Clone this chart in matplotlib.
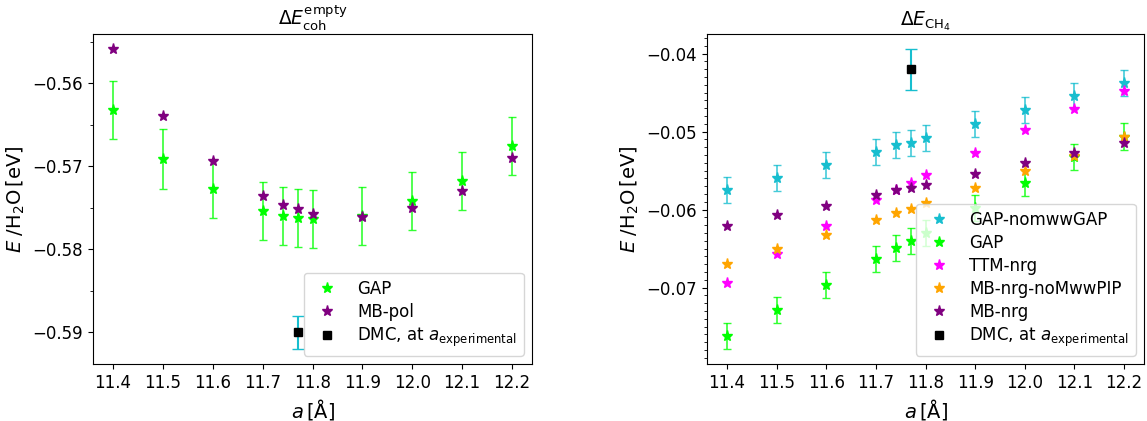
import numpy as np
import matplotlib
matplotlib.use('Agg')
import matplotlib.pyplot as plt
from matplotlib.ticker import MultipleLocator

# lattice constants
a = [11.4, 11.5, 11.6, 11.7, 11.74, 11.77, 11.8, 11.9, 12.0, 12.1, 12.2]
a_exp = 11.77

# cohesive energy of the empty lattice
coh_gap = [-0.5632, -0.5691, -0.5727, -0.5754, -0.5760, -0.5762, -0.5764, -0.5760, -0.5742, -0.5718, -0.5676]
coh_gap_err = [0.0035, 0.0036, 0.0035, 0.0035, 0.0035, 0.0035, 0.0035, 0.0035, 0.0035, 0.0035, 0.0035]
coh_mbpol = [-0.5559, -0.5640, -0.5694, -0.5736, -0.5747, -0.5751, -0.5757, -0.5761, -0.5750, -0.5730, -0.5690]
coh_dmc = -0.5900
coh_dmc_err = 0.0020

# methane binding energy
ch4_nomww = [-0.05752, -0.05590, -0.05427, -0.05256, -0.05175, -0.05141, -0.05081, -0.04906, -0.04726, -0.04547, -0.04380]
ch4_nomww_err = [0.00165] * 11
ch4_gap = [-0.07620, -0.07286, -0.06966, -0.06628, -0.06487, -0.06402, -0.06300, -0.05975, -0.05662, -0.05329, -0.05062]
ch4_gap_err = [0.00167] * 11
ch4_ttm = [-0.06944, -0.06573, -0.06209, -0.05880, -0.05750, -0.05654, -0.05560, -0.05269, -0.04979, -0.04714, -0.04479]
ch4_mbnrg_nopip = [-0.06701, -0.06509, -0.06329, -0.06128, -0.06038, -0.05987, -0.05919, -0.05718, -0.05509, -0.05312, -0.05068]
ch4_mbnrg = [-0.06209, -0.06073, -0.05949, -0.05812, -0.05748, -0.05722, -0.05679, -0.05543, -0.05406, -0.05278, -0.05141]
ch4_dmc = -0.0420
ch4_dmc_err = 0.0026

teal = '#17becf'
fs = 12
ms = 8

fig = plt.figure(figsize=(11.47, 4.21), dpi=100)
ax1 = fig.add_axes([0.0811, 0.1354, 0.3827, 0.7838])
ax2 = fig.add_axes([0.6164, 0.1354, 0.3810, 0.7838])

# left panel
ax1.errorbar(a, coh_gap, yerr=coh_gap_err, fmt='none', ecolor='lime', capsize=3, elinewidth=1.2, alpha=0.8)
ax1.plot(a, coh_gap, '*', color='lime', ms=ms, label='GAP')
ax1.plot(a, coh_mbpol, '*', color='purple', ms=ms, label='MB-pol')
ax1.errorbar(a_exp, coh_dmc, yerr=coh_dmc_err, fmt='none', ecolor=teal, capsize=4, elinewidth=1.5)
ax1.plot(a_exp, coh_dmc, 's', color='black', label=r'DMC, at $a_{\mathrm{experimental}}$')
ax1.set_title(r'$\Delta E_{\mathrm{coh}}^{\mathrm{empty}}$', fontsize=13.5)
ax1.yaxis.set_major_locator(MultipleLocator(0.01))
ax1.yaxis.set_minor_locator(MultipleLocator(0.005))
ax1.legend(loc='lower right', fontsize=fs, labelspacing=0.3)

# right panel
ax2.errorbar(a, ch4_nomww, yerr=ch4_nomww_err, fmt='none', ecolor=teal, capsize=3, elinewidth=1.2, alpha=0.8)
ax2.plot(a, ch4_nomww, '*', color=teal, ms=ms, label='GAP-nomwwGAP')
ax2.errorbar(a, ch4_gap, yerr=ch4_gap_err, fmt='none', ecolor='lime', capsize=3, elinewidth=1.2, alpha=0.8)
ax2.plot(a, ch4_gap, '*', color='lime', ms=ms, label='GAP')
ax2.plot(a, ch4_ttm, '*', color='magenta', ms=ms, label='TTM-nrg')
ax2.plot(a, ch4_mbnrg_nopip, '*', color='orange', ms=ms, label='MB-nrg-noMwwPIP')
ax2.plot(a, ch4_mbnrg, '*', color='purple', ms=ms, label='MB-nrg')
ax2.errorbar(a_exp, ch4_dmc, yerr=ch4_dmc_err, fmt='none', ecolor=teal, capsize=4, elinewidth=1.5)
ax2.plot(a_exp, ch4_dmc, 's', color='black', label=r'DMC, at $a_{\mathrm{experimental}}$')
ax2.set_title(r'$\Delta E_{\mathrm{CH_4}}$', fontsize=13.5)
ax2.yaxis.set_major_locator(MultipleLocator(0.01))
ax2.yaxis.set_minor_locator(MultipleLocator(0.001))
ax2.legend(loc='lower right', fontsize=fs, labelspacing=0.3)

for ax in (ax1, ax2):
    ax.set_xlabel(r'$a\,[\mathrm{\AA}]$', fontsize=14)
    ax.set_ylabel(r'$E\;/\mathrm{H_2O}\,[\mathrm{eV}]$', fontsize=14)
    ax.set_xticks([11.4, 11.5, 11.6, 11.7, 11.8, 11.9, 12.0, 12.1, 12.2])
    ax.tick_params(labelsize=fs)

fig.savefig('out.png', dpi=100)
